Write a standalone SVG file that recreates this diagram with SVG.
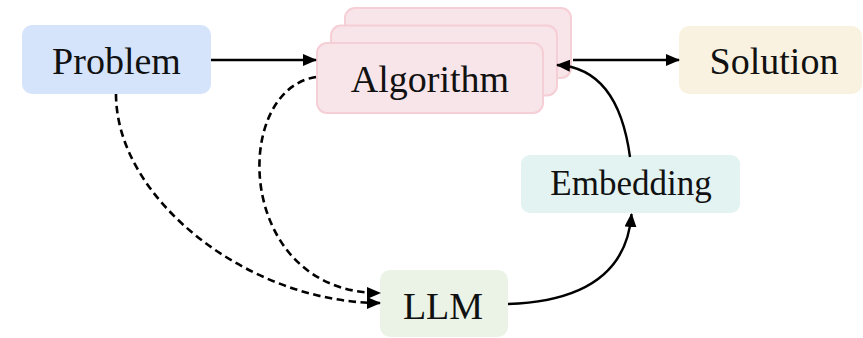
<svg xmlns="http://www.w3.org/2000/svg" width="863" height="338" viewBox="0 0 863 338">
<defs>
<style>
.lbl{font-family:"Liberation Serif","Times New Roman",serif;font-size:38px;fill:#111;text-anchor:middle}
.solid{fill:none;stroke:#000;stroke-width:2.4}
.dash{fill:none;stroke:#000;stroke-width:2.6;stroke-dasharray:7.5,4.5}
.alg{fill:#f8e5e9;stroke:#f6cfd6;stroke-width:2}
</style>
<marker id="ah" markerUnits="userSpaceOnUse" markerWidth="14" markerHeight="12" refX="13" refY="6" orient="auto">
<path d="M0,0 L14,6 L0,12 z" fill="#000"/>
</marker>
</defs>
<g id="problem">
<rect x="22" y="25" width="189" height="69" rx="10" fill="#d5e4fb"/>
<text class="lbl" x="116.5" y="74">Problem</text>
</g>
<g id="algorithm">
<rect class="alg" x="345" y="8" width="226" height="70" rx="10"/>
<rect class="alg" x="331" y="25.5" width="226" height="70" rx="10"/>
<rect class="alg" x="317" y="43" width="226" height="70" rx="10"/>
<text class="lbl" x="430" y="92">Algorithm</text>
</g>
<g id="solution">
<rect x="679" y="26" width="183" height="68" rx="10" fill="#faf2e0"/>
<text class="lbl" x="774" y="74">Solution</text>
</g>
<g id="embedding">
<rect x="521" y="155" width="219" height="58" rx="9" fill="#e3f3f2"/>
<text class="lbl" x="631" y="195" style="font-size:35px">Embedding</text>
</g>
<g id="llm">
<rect x="380" y="270" width="128" height="67" rx="10" fill="#eaf3e6"/>
<text class="lbl" x="443" y="319">LLM</text>
</g>
<g id="connectors">
<path class="solid" d="M211,60 L316,60" marker-end="url(#ah)"/>
<path class="solid" d="M573,60 L679,60" marker-end="url(#ah)"/>
<path class="solid" d="M630,157 Q618,68 557,65" marker-end="url(#ah)"/>
<path class="solid" d="M508,304 Q625,300 631.5,214" marker-end="url(#ah)"/>
<path class="dash" d="M116,94 C116,200 250,303 380,303" marker-end="url(#ah)"/>
<path class="dash" d="M316,77 C230,90 235,293 380,293" marker-end="url(#ah)"/>
</g>
</svg>
